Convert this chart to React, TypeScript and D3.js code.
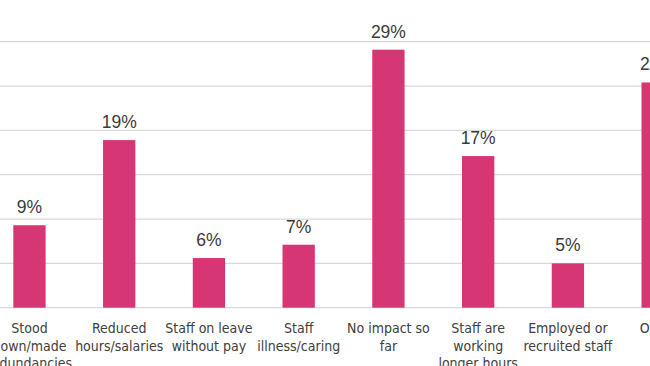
import * as d3 from 'd3';
import { useEffect, useRef } from 'react';

// chart data
const categories = [
    'Stood\ndown/made\nredundancies',
    'Reduced\nhours/salaries',
    'Staff on leave\nwithout pay',
    'Staff\nillness/caring',
    'No impact so\nfar',
    'Staff are\nworking\nlonger hours',
    'Employed or\nrecruited staff',
    'Other',
];
// bar heights (labels show them rounded)
const values = [9.3, 18.9, 5.6, 7.1, 29.1, 17.1, 5.0, 25.4];
const yTicks = [0, 5, 10, 15, 20, 25, 30];

function Chart() {
    const svgRef = useRef<SVGSVGElement>(null);

    useEffect(() => {
        const w = 650;
        const h = 366;
        const svg = d3.select(svgRef.current)
            .attr('width', w)
            .attr('height', h);
        svg.selectAll('*').remove();

        const xScale = d3.scaleBand()
            .domain(categories)
            .range([-15.4, 702.5])
            .paddingInner(0.64)
            .paddingOuter(0.32);

        const yScale = d3.scaleLinear()
            .domain([0, 30])
            .range([307.7, 41.7]);

        // gridlines
        svg.append('g')
            .selectAll('line')
            .data(yTicks)
            .join('line')
                .attr('x1', 0)
                .attr('x2', w)
                .attr('y1', d => yScale(d))
                .attr('y2', d => yScale(d))
                .attr('stroke', '#d9d9d9')
                .attr('stroke-width', 1.3);

        svg.append('g')
            .selectAll('rect')
            .data(values)
            .join('rect')
                .attr('x', (v, i) => xScale(categories[i]))
                .attr('y', v => yScale(v))
                .attr('width', xScale.bandwidth())
                .attr('height', v => yScale(0) - yScale(v))
                .style('fill', '#d63674');

        // value labels
        svg.append('g')
            .selectAll('text')
            .data(values)
            .join('text')
                .attr('x', (v, i) => xScale(categories[i]) + xScale.bandwidth() / 2)
                .attr('y', v => yScale(v) - 12)
                .attr('text-anchor', 'middle')
                .style('font-family', '"Liberation Sans", Arial, sans-serif')
                .style('font-size', '17.5px')
                .style('fill', '#3a3a3a')
                .text(v => `${Math.round(v)}%`);

        // category labels
        const labels = svg.append('g')
            .selectAll('text')
            .data(categories)
            .join('text')
                .attr('x', d => xScale(d) + xScale.bandwidth() / 2)
                .attr('y', 333)
                .attr('text-anchor', 'middle')
                .style('font-family', '"DejaVu Sans Condensed", "DejaVu Sans", sans-serif')
                .style('font-stretch', 'condensed')
                .style('font-size', '14px')
                .style('fill', '#404040');

        labels.selectAll('tspan')
            .data(d => d.split('\n').map(line => ({ line, x: xScale(d) + xScale.bandwidth() / 2 })))
            .join('tspan')
                .attr('x', t => t.x)
                .attr('dy', (t, i) => (i === 0 ? 0 : 17.5))
                .text(t => t.line);
    }, []);

    return (
        <svg ref={svgRef} style={{ position: 'absolute', left: 0, top: 0, background: '#fff' }}></svg>
    );
}

export default function App() {
    return <Chart />;
}
